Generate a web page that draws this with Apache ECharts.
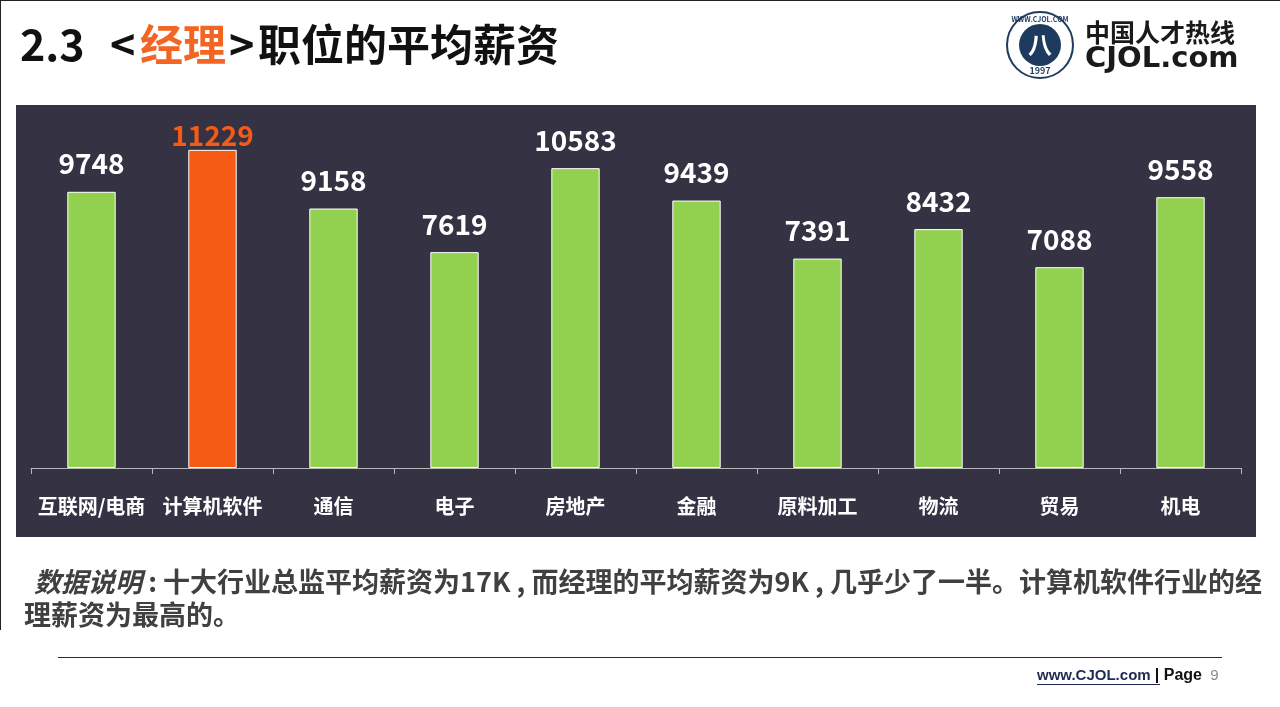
<!DOCTYPE html>
<html><head><meta charset="utf-8">
<script src="https://cdn.jsdelivr.net/npm/echarts@6/dist/echarts.min.js"></script>
<style>html,body{margin:0;padding:0;background:#fff}#c{width:1280px;height:707px}</style>
</head><body><div id="c"></div>
<script>
const categories = ['互联网/电商','计算机软件','通信','电子','房地产','金融','原料加工','物流','贸易','机电'];
const salaries = [9748, 11229, 9158, 7619, 10583, 9439, 7391, 8432, 7088, 9558];
const highlightIndex = 1;

const FONT = '"Noto Sans CJK SC", "Noto Sans", sans-serif';
const chart = echarts.init(document.getElementById('c'));
const data = salaries.map((v, i) => {
  const hi = i === highlightIndex;
  return {
    value: v,
    itemStyle: { color: hi ? '#F55B14' : '#92D050' },
    label: { color: hi ? '#F55B14' : '#FFFFFF', distance: hi ? 0 : 14 }
  };
});
const titleStyle = (t, c, x) => ({ type: 'text', x: x, y: 45, style: { text: t, fill: c, fontSize: 43, fontWeight: 'bold', fontFamily: FONT, verticalAlign: 'middle' } });
chart.setOption({
  animation: false,
  backgroundColor: '#fff',
  grid: { left: 31, right: 39, top: 128, bottom: 239 },
  xAxis: {
    type: 'category', data: categories,
    axisLine: { lineStyle: { color: '#B8B8B8', width: 1 } },
    axisTick: { show: true, interval: 0, length: 6, lineStyle: { color: '#B8B8B8' } },
    axisLabel: { interval: 0, color: '#FFFFFF', fontSize: 20, fontWeight: 'bold', fontFamily: FONT, margin: 28 }
  },
  yAxis: { type: 'value', min: 0, max: 12000, show: false, splitLine: { show: false } },
  series: [{
    type: 'bar', data: data, barWidth: '40%',
    itemStyle: { borderColor: '#FFFFFF', borderWidth: 1 },
    label: { show: true, position: 'top', fontSize: 28, fontWeight: 'bold', fontFamily: FONT }
  }],
  graphic: [
    { type: 'rect', z: -10, shape: { x: 16, y: 105, width: 1240, height: 432 }, style: { fill: '#353343' } },
    { type: 'line', shape: { x1: 0.5, y1: 0, x2: 0.5, y2: 630 }, style: { stroke: '#222', lineWidth: 1 } },
    { type: 'line', shape: { x1: 0, y1: 0.5, x2: 1280, y2: 0.5 }, style: { stroke: '#222', lineWidth: 1 } },
    titleStyle('2.3', '#111', 20),
    titleStyle('<', '#111', 110),
    titleStyle('经理', '#F26522', 140),
    titleStyle('>', '#111', 229),
    titleStyle('职位的平均薪资', '#111', 258),
    // logo
    { type: 'circle', shape: { cx: 1040, cy: 45, r: 33 }, style: { fill: '#fff', stroke: '#1F3A5F', lineWidth: 2 } },
    { type: 'circle', shape: { cx: 1040, cy: 45, r: 21 }, style: { fill: '#1F3A5F' } },
    { type: 'text', x: 1040, y: 45, style: { text: '八', fill: '#fff', fontSize: 24, fontWeight: 'bold', fontFamily: FONT, align: 'center', verticalAlign: 'middle' } },
    { type: 'text', x: 1040, y: 19, style: { text: 'WWW.CJOL.COM', fill: '#1F3A5F', fontSize: 7, fontWeight: 'bold', fontFamily: FONT, align: 'center', verticalAlign: 'middle' } },
    { type: 'text', x: 1040, y: 71, style: { text: '1997', fill: '#1F3A5F', fontSize: 9, fontWeight: 'bold', fontFamily: FONT, align: 'center', verticalAlign: 'middle' } },
    { type: 'text', x: 1085, y: 32, style: { text: '中国人才热线', fill: '#1a1a1a', fontSize: 25, fontWeight: 'bold', fontFamily: FONT, verticalAlign: 'middle' } },
    { type: 'text', x: 1085, y: 59, style: { text: 'CJOL.com', fill: '#1a1a1a', fontSize: 29, fontWeight: 'bold', fontFamily: '"DejaVu Sans", sans-serif', verticalAlign: 'middle' } },
    // note
    { type: 'text', x: 34, y: 582, style: {
        verticalAlign: 'middle',
        rich: { i: { fill: '#404040', fontSize: 27, fontWeight: 'bold', fontStyle: 'italic', fontFamily: FONT },
                n: { fill: '#404040', fontSize: 27, fontWeight: 'bold', fontFamily: FONT } },
        text: '{i|数据说明}{n| : 十大行业总监平均薪资为17K , 而经理的平均薪资为9K , 几乎少了一半。计算机软件行业的经}',
        textShadowColor: 'rgba(0,0,0,0.25)', textShadowOffsetX: 1, textShadowOffsetY: 1 } },
    { type: 'text', x: 24, y: 615, style: { text: '理薪资为最高的。', fill: '#404040', fontSize: 27, fontWeight: 'bold', fontFamily: FONT, verticalAlign: 'middle',
        textShadowColor: 'rgba(0,0,0,0.25)', textShadowOffsetX: 1, textShadowOffsetY: 1 } },
    // footer
    { type: 'line', shape: { x1: 58, y1: 657.5, x2: 1222, y2: 657.5 }, style: { stroke: '#1F2A44', lineWidth: 1 } },
    { type: 'text', x: 1037, y: 676, style: {
        verticalAlign: 'middle',
        rich: { u: { fill: '#1F2A55', fontSize: 15, fontWeight: 'bold', fontFamily: '"Liberation Sans", Arial, sans-serif' },
                p: { fill: '#111', fontSize: 16, fontWeight: 'bold', fontFamily: '"Liberation Sans", Arial, sans-serif' },
                n: { fill: '#888', fontSize: 15, fontFamily: '"Liberation Sans", Arial, sans-serif' } },
        text: '{u|www.CJOL.com }{p|| Page}{n|  9}' } },
    { type: 'line', shape: { x1: 1037, y1: 684.5, x2: 1160, y2: 684.5 }, style: { stroke: '#1F2A55', lineWidth: 1 } }
  ]
});
</script></body></html>
